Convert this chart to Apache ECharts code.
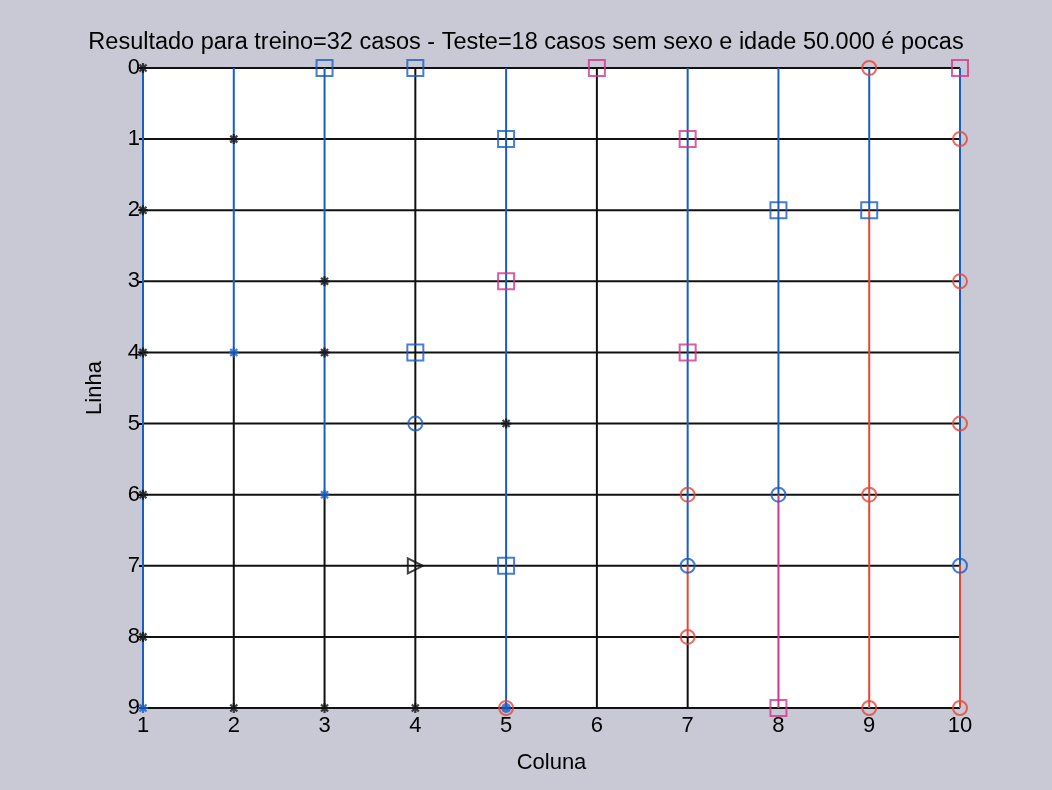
<!DOCTYPE html>
<html>
<head>
<meta charset="utf-8">
<script src="https://cdn.jsdelivr.net/npm/echarts@6/dist/echarts.min.js"></script>
<style>
html,body{margin:0;padding:0;background:#c9c9d5;}
#chart{width:1052px;height:790px;}
</style>
</head>
<body>
<div id="chart"></div>
<script>
// ---- data ----
const titleText = 'Resultado para treino=32 casos - Teste=18 casos sem sexo e idade 50.000 é pocas';
const xName = 'Coluna';
const yName = 'Linha';
const colunas = [1, 2, 3, 4, 5, 6, 7, 8, 9, 10];
const linhas = [0, 1, 2, 3, 4, 5, 6, 7, 8, 9];

// vertical segments: [coluna, linha inicial, linha final, classe]
const segmentos = [
  [1, 0, 9, 'azul'],
  [2, 0, 4, 'azul'], [2, 4, 9, 'preto'],
  [3, 0, 6, 'azul'], [3, 6, 9, 'preto'],
  [4, 0, 9, 'preto'],
  [5, 0, 9, 'azul'],
  [6, 0, 9, 'preto'],
  [7, 0, 7, 'azul'], [7, 7, 8, 'vermelho'], [7, 8, 9, 'preto'],
  [8, 0, 6, 'azul'], [8, 6, 9, 'magenta'],
  [9, 0, 2, 'azul'], [9, 2, 9, 'vermelho'],
  [10, 0, 7, 'azul'], [10, 7, 9, 'vermelho']
];

// markers: [coluna, linha, marcador, classe]
const marcadores = [
  [1, 0, 'asterisco', 'preto'], [1, 2, 'asterisco', 'preto'], [1, 4, 'asterisco', 'preto'],
  [1, 6, 'asterisco', 'preto'], [1, 8, 'asterisco', 'preto'], [1, 9, 'asterisco', 'azul'],
  [2, 1, 'asterisco', 'preto'], [2, 4, 'asterisco', 'azul'], [2, 9, 'asterisco', 'preto'],
  [3, 0, 'quadrado', 'azul'], [3, 3, 'asterisco', 'preto'], [3, 4, 'asterisco', 'preto'],
  [3, 6, 'asterisco', 'azul'], [3, 9, 'asterisco', 'preto'],
  [4, 0, 'quadrado', 'azul'], [4, 4, 'quadrado', 'azul'], [4, 5, 'circulo', 'azul'],
  [4, 7, 'triangulo', 'preto'], [4, 9, 'asterisco', 'preto'],
  [5, 1, 'quadrado', 'azul'], [5, 3, 'quadrado', 'magenta'], [5, 5, 'asterisco', 'preto'],
  [5, 7, 'quadrado', 'azul'], [5, 9, 'circulo', 'vermelho'], [5, 9, 'ponto', 'azul'],
  [6, 0, 'quadrado', 'magenta'],
  [7, 1, 'quadrado', 'magenta'], [7, 4, 'quadrado', 'magenta'], [7, 6, 'circulo', 'vermelho'],
  [7, 7, 'circulo', 'azul'], [7, 8, 'circulo', 'vermelho'],
  [8, 2, 'quadrado', 'azul'], [8, 6, 'circulo', 'azul'], [8, 9, 'quadrado', 'magenta'],
  [9, 0, 'circulo', 'vermelho'], [9, 2, 'quadrado', 'azul'], [9, 6, 'circulo', 'vermelho'],
  [9, 9, 'circulo', 'vermelho'],
  [10, 0, 'quadrado', 'magenta'], [10, 1, 'circulo', 'vermelho'], [10, 3, 'circulo', 'vermelho'],
  [10, 5, 'circulo', 'vermelho'], [10, 7, 'circulo', 'azul'], [10, 9, 'circulo', 'vermelho']
];

// ---- styles ----
const cores = { azul: '#1a5ec4', preto: '#111111', vermelho: '#e6453a', magenta: '#d6338c' };
const simbolos = {
  asterisco: { symbol: 'path://M0,-1L0,1M-1,0L1,0M-0.7,-0.7L0.7,0.7M-0.7,0.7L0.7,-0.7', size: 10, fill: false, width: 2.2 },
  quadrado: { symbol: 'rect', size: 16, fill: false, width: 2 },
  circulo: { symbol: 'circle', size: 14, fill: false, width: 2 },
  triangulo: { symbol: 'path://M0,0L1,0.5L0,1Z', size: 15, fill: false, width: 2 },
  ponto: { symbol: 'circle', size: 10, fill: true, width: 0 }
};

const series = [];
// horizontal row lines
linhas.forEach(r => {
  series.push({
    type: 'line', data: [[colunas[0], r], [colunas[colunas.length - 1], r]],
    symbol: 'none', silent: true, clip: false, z: 1,
    lineStyle: { color: cores.preto, width: 2 }
  });
});
// vertical segments
segmentos.forEach(s => {
  series.push({
    type: 'line', data: [[s[0], s[1]], [s[0], s[2]]],
    symbol: 'none', silent: true, clip: false, z: 2,
    lineStyle: { color: cores[s[3]], width: 2 }
  });
});
// markers
series.push({
  type: 'scatter', clip: false, z: 5,
  data: marcadores.map(m => {
    const sp = simbolos[m[2]];
    const c = cores[m[3]];
    return {
      value: [m[0], m[1]],
      symbol: sp.symbol,
      symbolSize: sp.size,
      itemStyle: sp.fill ? { color: c } : { color: 'rgba(0,0,0,0)', borderColor: c, borderWidth: sp.width }
    };
  })
});

const chart = echarts.init(document.getElementById('chart'));
const font = 'Liberation Sans, Arial, sans-serif';
chart.setOption({
  backgroundColor: '#c9c9d5',
  animation: false,
  title: {
    text: titleText, left: 'center', top: 26,
    textStyle: { fontFamily: font, fontSize: 23.5, fontWeight: 'normal', color: '#000' }
  },
  grid: {
    left: 143, right: 92, top: 68, bottom: 82,
    show: true, backgroundColor: '#ffffff', borderWidth: 0
  },
  xAxis: {
    type: 'value', min: 1, max: 10, interval: 1,
    name: xName, nameLocation: 'middle', nameGap: 44,
    nameTextStyle: { fontFamily: font, fontSize: 22, color: '#000' },
    axisLine: { show: false }, axisTick: { show: false }, splitLine: { show: false },
    axisLabel: { fontFamily: font, fontSize: 22, color: '#000', margin: 7 }
  },
  yAxis: {
    type: 'value', min: 0, max: 9, interval: 1, inverse: true,
    name: yName, nameLocation: 'middle', nameGap: 37, nameRotate: 90,
    nameTextStyle: { fontFamily: font, fontSize: 22, color: '#000' },
    axisLine: { show: false },
    axisTick: { show: true, inside: false, length: 4, lineStyle: { color: '#000', width: 2 } },
    splitLine: { show: false },
    axisLabel: { fontFamily: font, fontSize: 22, color: '#000', margin: 3 }
  },
  series: series
});
</script>
</body>
</html>
